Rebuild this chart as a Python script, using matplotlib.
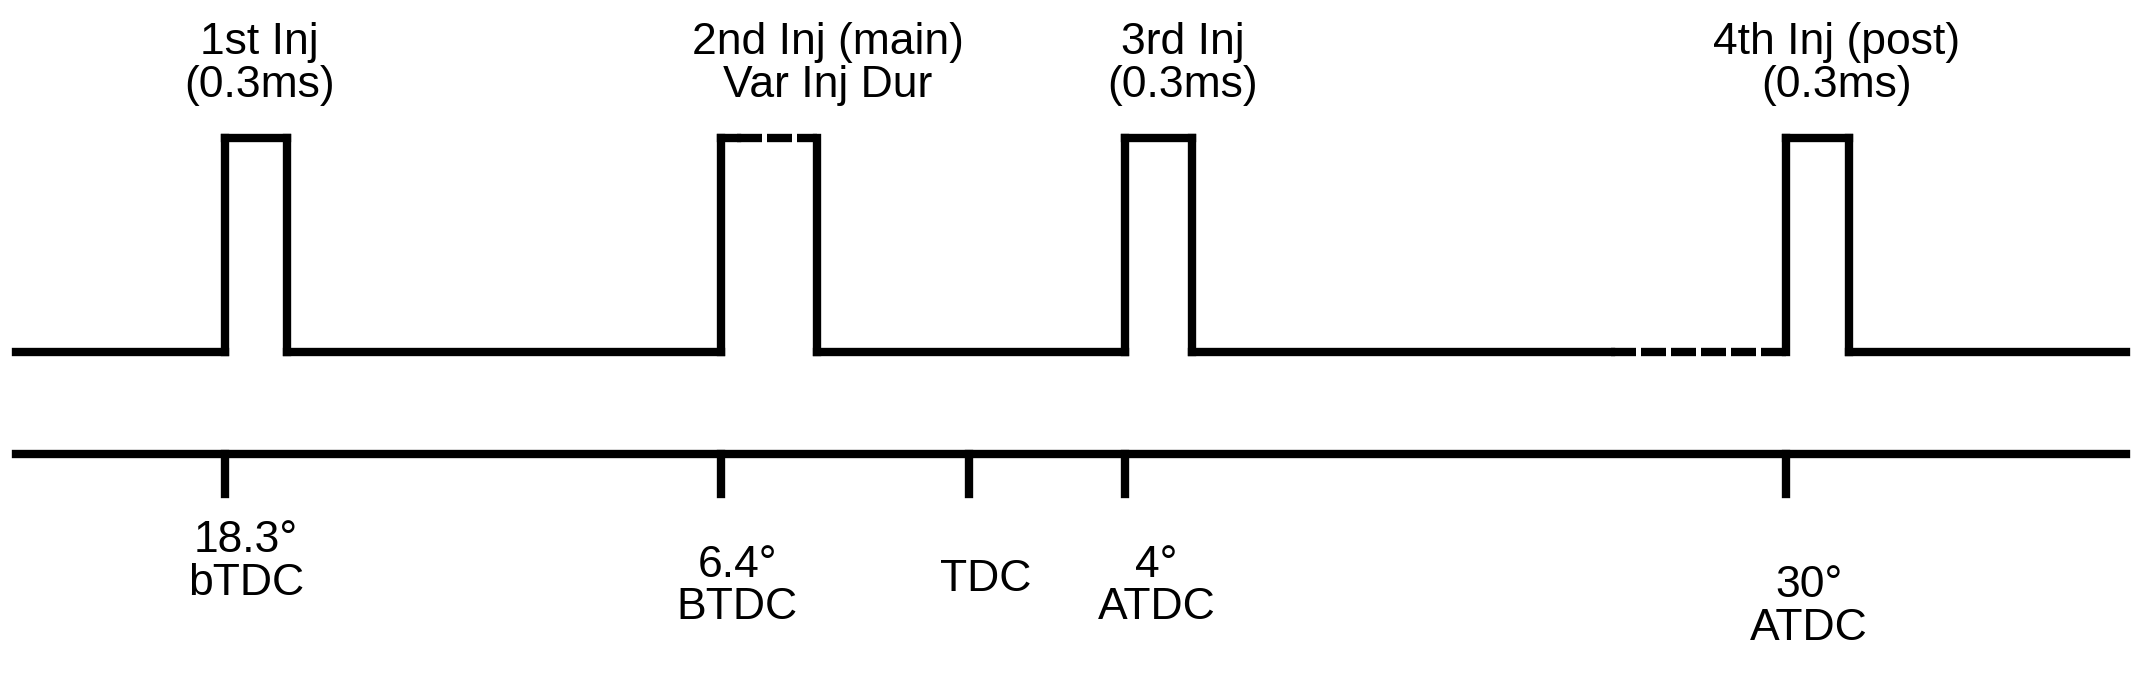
import matplotlib.pyplot as plt

# horizontal positions (crank-angle layout units, left to right)
pulse_start = [165, 528, 824, 1308]
pulse_end = [210, 598, 873, 1354]
pulse_labels = ["1st Inj\n(0.3ms)", "2nd Inj (main)\nVar Inj Dur", "3rd Inj\n(0.3ms)", "4th Inj (post)\n(0.3ms)"]
label_x = [190, 606, 866, 1345]
tick_x = [165, 528, 710, 824, 1308]
tick_labels = ["18.3°\nbTDC", "6.4°\nBTDC", "TDC", "4°\nATDC", "30°\nATDC"]
tick_label_x = [180, 540, 722, 847, 1325]
tick_label_y = [412, 430, 425, 430, 445]

x_min, x_max = 12, 1557
gap_start = 1180
low, high = 258, 101
axis_y, tick_bottom = 333, 362

plt.rcParams['font.family'] = ['Liberation Sans', 'DejaVu Sans']
fig = plt.figure(figsize=(21.41, 6.74), dpi=100)
ax = fig.add_axes([0, 0, 1, 1])
ax.set_xlim(0, 1568)
ax.set_ylim(494, 0)
ax.axis('off')
lw = 6
kw = dict(color='black', lw=lw, solid_capstyle='projecting', dash_capstyle='butt')
fs = 32

# baseline segments
xs = [x_min] + pulse_end
xe = pulse_start + [x_max]
for i, (a, b) in enumerate(zip(xs, xe)):
    if i == 3:
        ax.plot([a, gap_start], [low, low], **kw)
        ax.plot([gap_start, b], [low, low], ls=(0, (3, 0.6)), **kw)
    else:
        ax.plot([a, b], [low, low], **kw)

# pulses
for i, (a, b) in enumerate(zip(pulse_start, pulse_end)):
    ax.plot([a, a], [low, high], **kw)
    ax.plot([b, b], [low, high], **kw)
    if i == 1:
        ax.plot([a, a + 12], [high, high], **kw)
        ax.plot([a + 12, b], [high, high], ls=(0, (3, 0.6)), **kw)
    else:
        ax.plot([a, b], [high, high], **kw)
    ax.text(label_x[i], 47, pulse_labels[i], ha='center', va='center', fontsize=fs, linespacing=1.05)

# axis
ax.plot([x_min, x_max], [axis_y, axis_y], **kw)
for tx, lab, lx, ly in zip(tick_x, tick_labels, tick_label_x, tick_label_y):
    ax.plot([tx, tx], [axis_y, tick_bottom], **kw)
    ax.text(lx, ly, lab, ha='center', va='center', fontsize=fs, linespacing=1.05)

fig.savefig("out.png", dpi=100)
